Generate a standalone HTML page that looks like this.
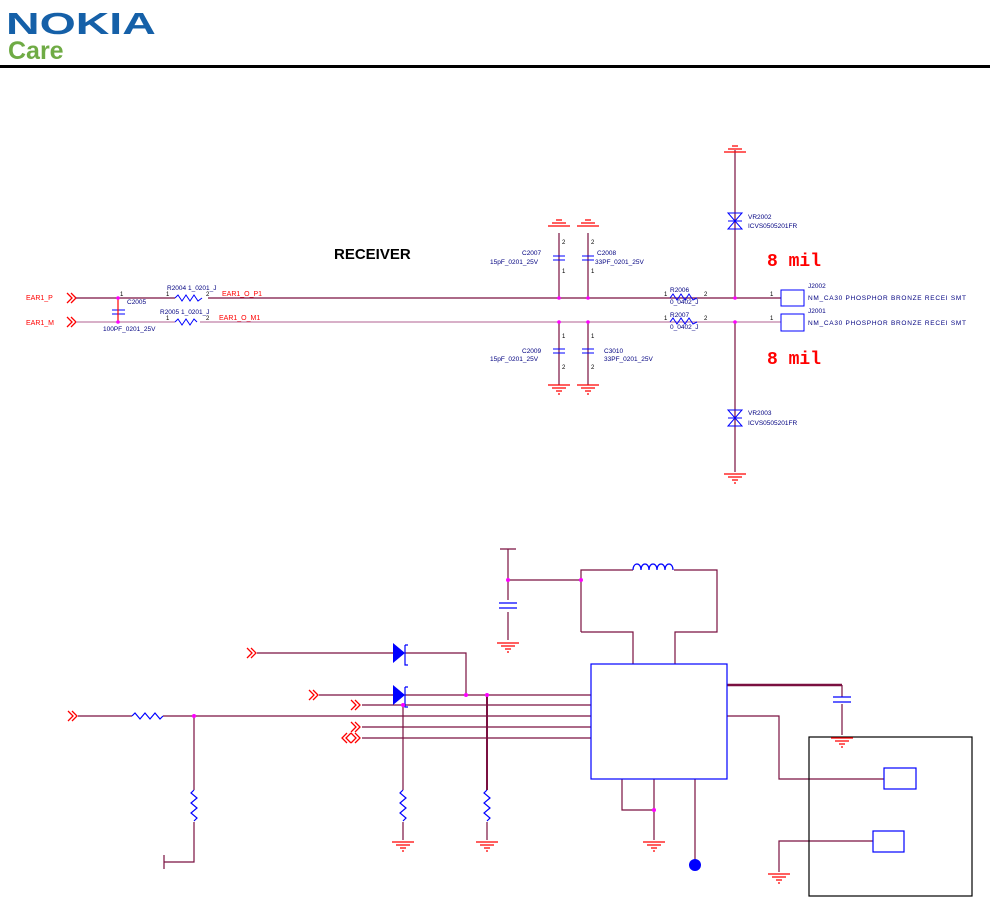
<!DOCTYPE html>
<html><head><meta charset="utf-8"><style>
body{margin:0;background:#fff;width:990px;height:897px;overflow:hidden}
svg{display:block}
text{font-family:"Liberation Sans",sans-serif}
</style></head><body>
<svg width="990" height="897" viewBox="0 0 990 897" xmlns="http://www.w3.org/2000/svg">
<defs>
<g id="gnd"><path d="M-11 0H11M-7 3H7M-3 6H3M-1 9H1" stroke="#f00" stroke-width="1.3" fill="none"/></g>
<g id="gndu"><path d="M-11 0H11M-7 -3H7M-3 -6H3" stroke="#f00" stroke-width="1.3" fill="none"/></g>
<g id="chev"><path d="M0 -5L5 0L0 5M4 -5L9 0L4 5" stroke="#f00" stroke-width="1.3" fill="none"/></g>
</defs>
<!-- header -->
<text x="0" y="0" font-size="31" font-weight="bold" fill="#1560a8" transform="translate(6,34) scale(1.5,1)">NOKIA</text>
<text x="8" y="59" font-size="25" font-weight="bold" fill="#6fab45">Care</text>
<rect x="0" y="65" width="990" height="3" fill="#000"/>

<!-- top schematic -->
<text x="334" y="259" font-size="15" font-weight="bold" fill="#000">RECEIVER</text>
<g font-size="7" fill="#f00">
<text x="26" y="300">EAR1_P</text><text x="26" y="325">EAR1_M</text>
<text x="222" y="296">EAR1_O_P1</text><text x="219" y="320">EAR1_O_M1</text>
</g>
<use href="#chev" x="67" y="298"/><use href="#chev" x="67" y="322"/>
<g stroke="#7a1040" stroke-width="1.2" fill="none">
<path d="M76 298H175M208 298H781"/>
<path d="M559 233V298M588 233V298M559 322V385M588 322V385M735 150V298"/>
<path d="M735 322V472"/>
</g>
<path d="M76 322H175M200 322H781" stroke="#c080a8" stroke-width="1.2"/>
<g stroke="#00f" stroke-width="1" fill="none">
<path d="M112 310H125M112 314H125"/>
<path d="M175 298l3-3 4 6 4-6 4 6 4-6 4 6 4-3"/>
<path d="M175 322l3-3 4 6 4-6 4 6 4-6 3 3"/>
<path d="M553 256H565M553 260H565M582 256H594M582 260H594M553 349H565M553 353H565M582 349H594M582 353H594"/>
<path d="M670 298l3-4 4 6 4-6 4 6 4-6 4 6 4-2M670 322l3-4 4 6 4-6 4 6 4-6 4 6 4-2"/>
<path d="M728 213H742L728 229H742ZM728 221H742M728 410H742L728 426H742ZM728 418H742"/>
<rect x="781" y="290" width="23" height="16"/><rect x="781" y="314" width="23" height="17"/>
</g>
<path d="M118 298V322" stroke="#f00" stroke-width="1.2"/>
<g fill="#f0f"><circle cx="118" cy="298" r="1.8"/><circle cx="118" cy="322" r="1.8"/><circle cx="559" cy="298" r="1.8"/><circle cx="588" cy="298" r="1.8"/><circle cx="559" cy="322" r="1.8"/><circle cx="588" cy="322" r="1.8"/><circle cx="735" cy="298" r="1.8"/><circle cx="735" cy="322" r="1.8"/></g>
<use href="#gndu" x="559" y="226"/><use href="#gndu" x="588" y="226"/><use href="#gndu" x="735" y="152"/>
<use href="#gnd" x="559" y="385"/><use href="#gnd" x="588" y="385"/><use href="#gnd" x="735" y="474"/>
<g font-size="6.5" fill="#000080">
<text x="127" y="304">C2005</text><text x="103" y="331">100PF_0201_25V</text>
<text x="167" y="290">R2004 1_0201_J</text><text x="160" y="314">R2005 1_0201_J</text>
<text x="522" y="255">C2007</text><text x="490" y="264">15pF_0201_25V</text>
<text x="597" y="255">C2008</text><text x="595" y="264">33PF_0201_25V</text>
<text x="522" y="353">C2009</text><text x="490" y="361">15pF_0201_25V</text>
<text x="604" y="353">C3010</text><text x="604" y="361">33PF_0201_25V</text>
<text x="670" y="292">R2006</text><text x="670" y="304">0_0402_J</text>
<text x="670" y="317">R2007</text><text x="670" y="329">0_0402_J</text>
<text x="748" y="219">VR2002</text><text x="748" y="228">ICVS0505201FR</text>
<text x="748" y="415">VR2003</text><text x="748" y="425">ICVS0505201FR</text>
<text x="808" y="288">J2002</text><text x="808" y="300" textLength="158">NM_CA30 PHOSPHOR BRONZE RECEI SMT</text>
<text x="808" y="313">J2001</text><text x="808" y="325" textLength="158">NM_CA30 PHOSPHOR BRONZE RECEI SMT</text>
</g>
<g font-size="6" fill="#000">
<text x="120" y="296">1</text><text x="166" y="296">1</text><text x="206" y="296">2</text><text x="166" y="320">1</text><text x="206" y="320">2</text>
<text x="562" y="244">2</text><text x="591" y="244">2</text><text x="562" y="273">1</text><text x="591" y="273">1</text>
<text x="562" y="338">1</text><text x="591" y="338">1</text><text x="562" y="369">2</text><text x="591" y="369">2</text>
<text x="664" y="296">1</text><text x="704" y="296">2</text><text x="664" y="320">1</text><text x="704" y="320">2</text>
<text x="770" y="296">1</text><text x="770" y="320">1</text>
</g>
<g font-size="18" font-weight="bold" fill="#f00">
<text x="767" y="266" style="font-family:'Liberation Mono',monospace">8 mil</text>
<text x="767" y="364" style="font-family:'Liberation Mono',monospace">8 mil</text>
</g>

<!-- bottom schematic -->
<g stroke="#7a1040" stroke-width="1.2" fill="none">
<path d="M508 549V600M508 612V640M500 549H516"/>
<path d="M508 580H581M581 632V570H633M674 570H717V632H675V664M581 632H633V664"/>
<path d="M257 653H393M405 653H466V695"/>
<path d="M319 695H393M405 695H591"/>
<path d="M362 705H591M78 716H132M163 716H591M362 727H591M362 738H591"/>
<path d="M403 705V790M403 822V840"/>
<path d="M194 716V790M194 822V862H164M164 855V869"/>
<path d="M487 822V840"/>
<path d="M727 716H779V779H884"/>
<path d="M842 685V697M842 704V735"/>
<path d="M622 779V810H654M654 779V840M695 779V860"/>
<path d="M873 841H779V872"/>
</g>
<path d="M487 695V790" stroke="#7a1040" stroke-width="2"/>
<path d="M727 685H842" stroke="#7a1040" stroke-width="2.5"/>
<use href="#chev" x="247" y="653"/><use href="#chev" x="309" y="695"/><use href="#chev" x="351" y="705"/>
<use href="#chev" x="68" y="716"/><use href="#chev" x="351" y="727"/><use href="#chev" x="351" y="738"/>
<path d="M347 733L342 738L347 743M351 733L346 738L351 743" stroke="#f00" stroke-width="1.3" fill="none"/>
<g stroke="#00f" stroke-width="1.2" fill="none">
<path d="M499 603H517M499 608H517"/>
<path d="M833 697H851M833 702H851"/>
<path d="M132 716l3-3 5 6 5-6 5 6 5-6 5 6 3-3"/>
<path d="M194 790l-3 3 6 5-6 5 6 5-6 5 6 5-3 3"/>
<path d="M403 790l-3 3 6 5-6 5 6 5-6 5 6 5-3 3"/>
<path d="M487 790l-3 3 6 5-6 5 6 5-6 5 6 5-3 3"/>
<path d="M633 570c0-8 8-8 8 0c0-8 8-8 8 0c0-8 8-8 8 0c0-8 8-8 8 0c0-8 8-8 8 0"/>
<rect x="591" y="664" width="136" height="115"/>
<rect x="884" y="768" width="32" height="21"/><rect x="873" y="831" width="31" height="21"/>
<path d="M405 645V665H408M408 645H405M405 687V707H408M408 687H405"/>
</g>
<path d="M393 643L405 653L393 663ZM393 685L405 695L393 705Z" fill="#00f"/>
<rect x="809" y="737" width="163" height="159" fill="none" stroke="#000" stroke-width="1.2"/>
<circle cx="695" cy="865" r="6" fill="#00f"/>
<g fill="#f0f"><circle cx="508" cy="580" r="2"/><circle cx="581" cy="580" r="2"/><circle cx="466" cy="695" r="2"/><circle cx="487" cy="695" r="2"/><circle cx="403" cy="705" r="2"/><circle cx="194" cy="716" r="2"/><circle cx="654" cy="810" r="2"/></g>
<use href="#gnd" x="508" y="643"/><use href="#gnd" x="403" y="842"/><use href="#gnd" x="487" y="842"/><use href="#gnd" x="654" y="842"/><use href="#gnd" x="842" y="738"/><use href="#gnd" x="779" y="874"/>
</svg>
</body></html>
